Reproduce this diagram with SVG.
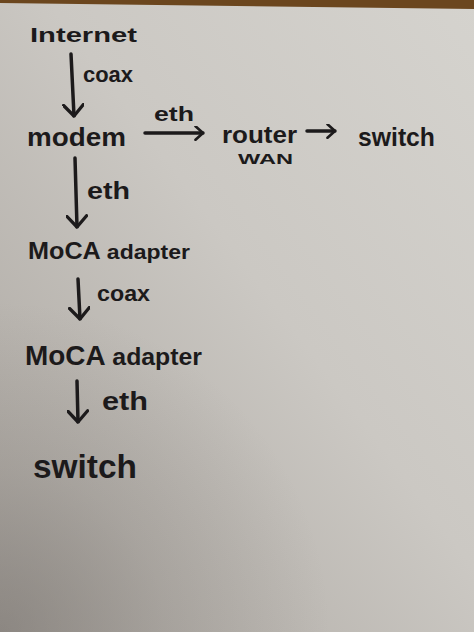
<svg xmlns="http://www.w3.org/2000/svg" width="474" height="632" viewBox="0 0 474 632">
  <style>
    .ink { fill: #1c1a1b; font-family: "Liberation Sans", "DejaVu Sans", sans-serif; font-weight: bold; }
    .edge { stroke: #1c1a1b; stroke-width: 3.5; fill: none; stroke-linecap: round; }
  </style>
  <defs>
    <linearGradient id="paper" x1="1" y1="0" x2="0" y2="1">
      <stop offset="0" stop-color="#d5d3ce"/>
      <stop offset="0.45" stop-color="#cbc8c3"/>
      <stop offset="1" stop-color="#a9a49e"/>
    </linearGradient>
    <radialGradient id="shade" gradientUnits="userSpaceOnUse" cx="0" cy="632" r="330">
      <stop offset="0" stop-color="#6f6a66" stop-opacity="0.5"/>
      <stop offset="0.5" stop-color="#6f6a66" stop-opacity="0.2"/>
      <stop offset="1" stop-color="#6f6a66" stop-opacity="0"/>
    </radialGradient>
    <marker id="head" viewBox="0 0 12 20" refX="11" refY="10" markerWidth="14" markerHeight="22" markerUnits="userSpaceOnUse" orient="auto">
      <path d="M1,1 L11,10 L1,19" fill="none" stroke="#1c1a1b" stroke-width="3" stroke-linecap="round" stroke-linejoin="round"/>
    </marker>
    <marker id="headS" viewBox="0 0 12 20" refX="11" refY="10" markerWidth="10" markerHeight="15" markerUnits="userSpaceOnUse" orient="auto">
      <path d="M1,1 L11,10 L1,19" fill="none" stroke="#1c1a1b" stroke-width="3.5" stroke-linecap="round" stroke-linejoin="round"/>
    </marker>
  </defs>

  <!-- background: paper on brown table -->
  <rect x="0" y="0" width="474" height="632" fill="url(#paper)"/>
  <rect x="0" y="0" width="474" height="632" fill="url(#shade)"/>
  <polygon points="0,0 474,0 474,9 0,3" fill="#6b461e"/>

  <!-- connectors -->
  <g id="connectors">
    <line class="edge" x1="71" y1="54" x2="74" y2="116" marker-end="url(#head)"/>
    <text class="ink" x="83" y="82" font-size="22" textLength="50" lengthAdjust="spacingAndGlyphs">coax</text>

    <line class="edge" x1="145" y1="133" x2="203" y2="133" marker-end="url(#headS)"/>
    <text class="ink" x="154" y="121" font-size="21" textLength="40" lengthAdjust="spacingAndGlyphs">eth</text>

    <line class="edge" x1="307" y1="131" x2="335" y2="131" marker-end="url(#headS)"/>

    <line class="edge" x1="75" y1="158" x2="77" y2="227" marker-end="url(#head)"/>
    <text class="ink" x="87" y="199" font-size="23" textLength="43" lengthAdjust="spacingAndGlyphs">eth</text>

    <line class="edge" x1="78" y1="279" x2="80" y2="319" marker-end="url(#head)"/>
    <text class="ink" x="97" y="301" font-size="22" textLength="53" lengthAdjust="spacingAndGlyphs">coax</text>

    <line class="edge" x1="77" y1="381" x2="78" y2="422" marker-end="url(#head)"/>
    <text class="ink" x="102" y="410" font-size="25" textLength="46" lengthAdjust="spacingAndGlyphs">eth</text>
  </g>

  <!-- nodes -->
  <g id="internet">
    <text class="ink" x="30" y="42" font-size="21" textLength="107" lengthAdjust="spacingAndGlyphs">Internet</text>
  </g>
  <g id="modem">
    <text class="ink" x="27" y="146" font-size="26" textLength="99" lengthAdjust="spacingAndGlyphs">modem</text>
  </g>
  <g id="router">
    <text class="ink" x="222" y="143" font-size="24" textLength="75" lengthAdjust="spacingAndGlyphs">router</text>
    <text class="ink" x="238" y="164" font-size="15" textLength="55" lengthAdjust="spacingAndGlyphs">WAN</text>
  </g>
  <g id="switch-top">
    <text class="ink" x="358" y="146" font-size="26" textLength="77" lengthAdjust="spacingAndGlyphs">switch</text>
  </g>
  <g id="moca-1">
    <text class="ink" x="28" y="259" font-size="23" textLength="162" lengthAdjust="spacingAndGlyphs">MoCA <tspan font-size="21">adapter</tspan></text>
  </g>
  <g id="moca-2">
    <text class="ink" x="25" y="365" font-size="27" textLength="177" lengthAdjust="spacingAndGlyphs">MoCA <tspan font-size="24">adapter</tspan></text>
  </g>
  <g id="switch-bottom">
    <text class="ink" x="33" y="478" font-size="34" textLength="104" lengthAdjust="spacingAndGlyphs">switch</text>
  </g>
</svg>
